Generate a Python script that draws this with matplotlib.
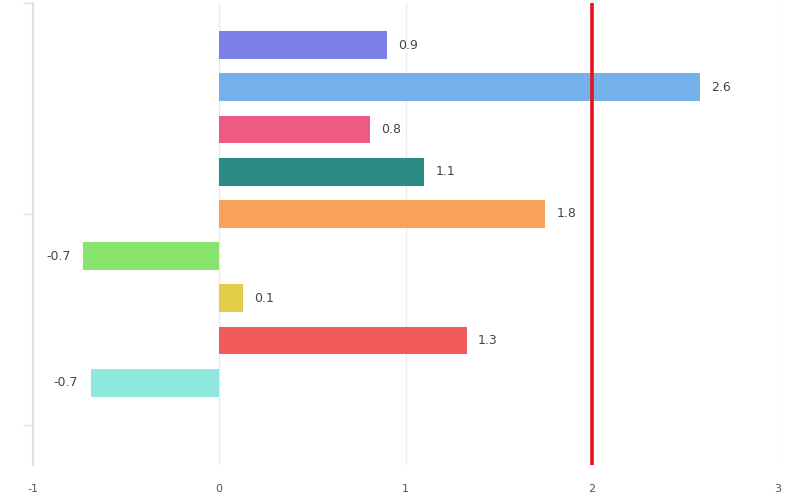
import matplotlib.pyplot as plt

# bar values, top to bottom
values = [0.9, 2.58, 0.81, 1.1, 1.75, -0.73, 0.13, 1.33, -0.69]
colors = ['#7b7fe6', '#74b1ea', '#ef5a82', '#2a8c85', '#f7a15a',
          '#88e46c', '#e2cc48', '#f25b5b', '#8ee8dd']
labels = [f'{v:.1f}' for v in values]
x_ticks = [-1, 0, 1, 2, 3]
ref_line = 2

fig = plt.figure(figsize=(7.9, 5.0), dpi=100)
ax = fig.add_axes([33 / 790, 35 / 500, 745 / 790, 462 / 500])

pos = list(range(len(values)))
ax.barh(pos, values, height=0.66, color=colors, zorder=2)

for p, v, lab in zip(pos, values, labels):
    if v >= 0:
        ax.annotate(lab, (v, p), xytext=(8, 0), textcoords='offset points',
                    ha='left', va='center', fontsize=9, color='#444444')
    else:
        ax.annotate(lab, (v, p), xytext=(-9, 0), textcoords='offset points',
                    ha='right', va='center', fontsize=9, color='#444444')

ax.axvline(ref_line, color='#e8141b', linewidth=2.6, zorder=3)

ax.set_xlim(-1, 3)
ax.set_ylim(9.95, -1)
ax.set_xticks(x_ticks)
ax.set_xticklabels([str(t) for t in x_ticks])
ax.set_yticks([-1, 4, 9])
ax.set_yticklabels([])
ax.grid(axis='x', color='#ebebeb', linewidth=1, zorder=0)

for s in ['top', 'right', 'bottom']:
    ax.spines[s].set_visible(False)
ax.spines['left'].set_color('#e0e0e0')
ax.spines['left'].set_linewidth(1.5)
ax.tick_params(axis='y', length=7, color='#e0e0e0', width=1)
ax.tick_params(axis='x', length=0, pad=14, labelsize=8, labelcolor='#555555')

fig.savefig('out.png', dpi=100)
